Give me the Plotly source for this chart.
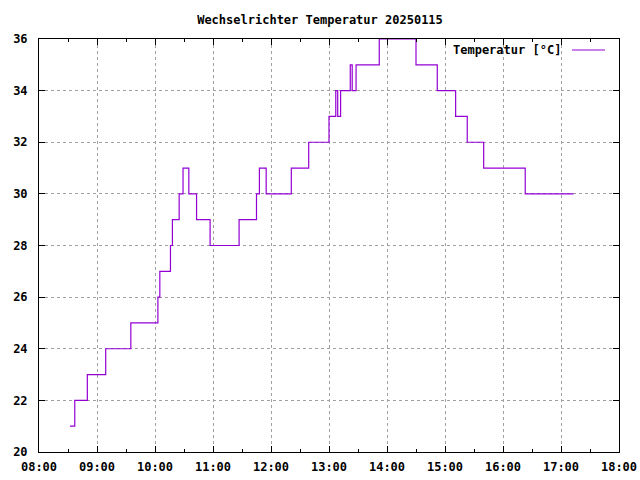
import plotly.graph_objects as go

day = "2025-01-15 "
times = ["08:32", "08:37", "08:50", "09:09", "09:35", "10:03", "10:05", "10:16",
         "10:18", "10:25", "10:29", "10:35", "10:43", "10:57", "11:27", "11:45",
         "11:48", "11:55", "12:21", "12:39", "13:00", "13:07", "13:09", "13:12",
         "13:22", "13:24", "13:28", "13:52", "14:30", "14:52", "15:11", "15:23",
         "15:40", "16:23", "17:13"]
temps = [21, 22, 23, 24, 25, 26, 27, 28,
         29, 30, 31, 30, 29, 28, 29, 30,
         31, 30, 31, 32, 33, 34, 33, 34,
         35, 34, 35, 36, 35, 34, 33, 32,
         31, 30, 30]

title_text = "Wechselrichter Temperatur 20250115"
series_name = "Temperatur [°C]"
x_ticks = ["08:00", "09:00", "10:00", "11:00", "12:00", "13:00", "14:00",
           "15:00", "16:00", "17:00", "18:00"]
y_ticks = [20, 22, 24, 26, 28, 30, 32, 34, 36]

FONT = dict(family="DejaVu Sans Mono", size=12, color="black", weight="bold")
PURPLE = "#9400d3"

L, R, T, B = 39, 21, 39, 28
PW, PH = 640 - L - R, 480 - T - B

fig = go.Figure()
fig.add_trace(go.Scatter(
    x=[day + t for t in times], y=temps, mode="lines", line_shape="hv",
    line=dict(color=PURPLE, width=1.2), name=series_name, showlegend=False,
))

fig.update_layout(
    width=640, height=480,
    margin=dict(l=L, r=R, t=T, b=B, autoexpand=False),
    paper_bgcolor="white", plot_bgcolor="white",
    font=FONT,
    title=dict(text=title_text, x=0.5, xanchor="center", y=1 - 20 / 480,
               yanchor="middle", yref="container", font=FONT, automargin=False),
    xaxis=dict(
        type="date", range=[day + x_ticks[0], day + x_ticks[-1]],
        tickvals=[day + t for t in x_ticks], ticktext=x_ticks,
        ticks="inside", ticklen=6, tickcolor="black", tickwidth=1,
        showline=True, linecolor="black", linewidth=1, mirror="allticks",
        showgrid=True, gridcolor="#a0a0a0", griddash="dot", gridwidth=1,
        minor=dict(dtick=1800000, ticks="inside", ticklen=3, tickcolor="black",
                   showgrid=False),
        zeroline=False, layer="above traces", tickfont=FONT,
        ticklabelstandoff=4, automargin=False,
    ),
    yaxis=dict(
        range=[y_ticks[0], y_ticks[-1]], tickvals=y_ticks,
        ticks="inside", ticklen=6, tickcolor="black", tickwidth=1,
        showline=True, linecolor="black", linewidth=1, mirror="allticks",
        showgrid=True, gridcolor="#a0a0a0", griddash="dot", gridwidth=1,
        zeroline=False, layer="above traces", tickfont=FONT,
        ticklabelstandoff=8, automargin=False,
    ),
    annotations=[dict(text=series_name, xref="paper", yref="paper",
                      x=(563 - L) / PW, y=1 - (50 - T) / PH,
                      xanchor="right", yanchor="middle", showarrow=False,
                      font=FONT)],
    shapes=[dict(type="line", xref="paper", yref="paper",
                 x0=(572 - L) / PW, x1=(605 - L) / PW,
                 y0=1 - (50 - T) / PH, y1=1 - (50 - T) / PH,
                 line=dict(color=PURPLE, width=1.2))],
)

fig.write_html("out.html", config={"displayModeBar": False},
               post_script="document.body.style.margin='0';"
                           "document.body.style.overflow='hidden';")
